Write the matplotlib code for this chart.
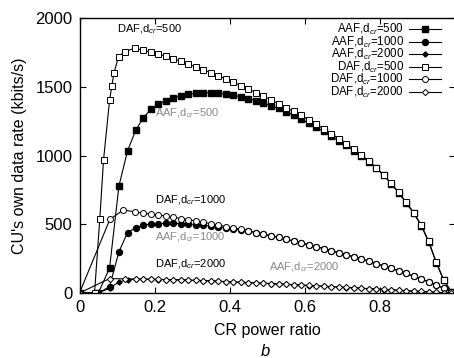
import matplotlib
matplotlib.use("Agg")
import matplotlib.pyplot as plt

plt.rcParams['font.family'] = ['Liberation Sans', 'DejaVu Sans']
plt.rcParams['mathtext.fontset'] = 'custom'
plt.rcParams['mathtext.rm'] = 'Liberation Sans'
plt.rcParams['mathtext.it'] = 'Liberation Sans:italic'

# common x grid for the tail of all curves
x_tail = [0.21, 0.23, 0.25, 0.27, 0.29, 0.31, 0.33, 0.35, 0.37, 0.39,
          0.41, 0.43, 0.45, 0.47, 0.49, 0.51, 0.53, 0.55, 0.57, 0.59,
          0.61, 0.63, 0.65, 0.67, 0.69, 0.71, 0.73, 0.75, 0.77, 0.79,
          0.81, 0.83, 0.85, 0.87, 0.89, 0.91, 0.93, 0.95, 0.97, 0.99]

# AAF, d_cr=500
x_aaf500 = [0, 0.05, 0.08, 0.105, 0.128, 0.15, 0.17, 0.19] + x_tail
y_aaf500 = [0, 0, 180, 778, 1035, 1185, 1275, 1335,
            1372, 1398, 1418, 1434, 1446, 1453, 1456, 1456, 1453, 1447,
            1438, 1427, 1414, 1399, 1382, 1363, 1342, 1319, 1294, 1266,
            1236, 1206, 1175, 1143, 1109, 1073, 1036, 997, 955, 910,
            855, 795, 728, 655, 580, 490, 370, 220, 92, 10]

# DAF, d_cr=500
x_daf500 = [0, 0.04, 0.054, 0.064, 0.08, 0.086, 0.092, 0.104, 0.12, 0.147,
            0.17, 0.19] + x_tail
y_daf500 = [0, 0, 536, 967, 1400, 1505, 1602, 1719, 1755, 1780, 1765, 1752,
            1739, 1721, 1703, 1684, 1664, 1644, 1623, 1601, 1579, 1556,
            1532, 1508, 1483, 1457, 1431, 1404, 1377, 1349, 1320, 1291,
            1260, 1228, 1194, 1159, 1123, 1085, 1046, 1005, 962, 912,
            858, 798, 732, 660, 585, 495, 375, 225, 95, 10]

# AAF, d_cr=1000
x_aaf1000 = [0, 0.05, 0.08, 0.105, 0.128, 0.15, 0.17, 0.19] + x_tail
y_aaf1000 = [0, 0, 46, 300, 439, 475, 493, 501,
             505, 506, 506, 505, 502, 498, 493, 487, 480, 473,
             466, 458, 449, 439, 428, 416, 404, 391, 378, 365,
             351, 337, 323, 308, 293, 278, 263, 247, 231, 214,
             197, 179, 161, 142, 122, 102, 80, 58, 33, 8]

# DAF, d_cr=1000
x_daf1000 = [0, 0.081, 0.117, 0.147, 0.17, 0.19] + x_tail
y_daf1000 = [0, 536, 604, 590, 581, 574,
             567, 559, 550, 541, 533, 524, 514, 504, 494, 483,
             473, 462, 451, 440, 428, 416, 404, 391, 378, 365,
             351, 337, 323, 308, 293, 278, 263, 247, 231, 214,
             197, 179, 161, 142, 122, 102, 80, 58, 33, 8]

# AAF, d_cr=2000
x_aaf2000 = [0, 0.05, 0.08, 0.105, 0.128, 0.15, 0.17, 0.19] + x_tail
y_aaf2000 = [0, 0, 35, 80, 96, 99, 99, 99,
             98, 97, 96, 95, 93, 91, 89, 87, 85, 82,
             80, 77, 75, 73, 70, 68, 65, 62, 60, 57,
             54, 51, 48, 46, 43, 40, 37, 34, 31, 28,
             25, 22, 19, 16, 13, 10, 7, 5, 2, 0]

# DAF, d_cr=2000
x_daf2000 = [0, 0.08, 0.12, 0.15, 0.17, 0.19] + x_tail
y_daf2000 = [0, 105, 103, 102, 101, 100,
             99, 98, 97, 96, 94, 92, 90, 88, 86, 83,
             81, 78, 76, 74, 71, 69, 66, 63, 61, 58,
             55, 52, 49, 47, 44, 41, 38, 35, 32, 29,
             26, 23, 20, 17, 14, 11, 8, 5, 3, 1]

fig = plt.figure(figsize=(4.54, 3.58), dpi=100)
ax = fig.add_axes([79.5 / 454, 1 - 293 / 358, (455 - 79.5) / 454, (293 - 18) / 358])

lw = 0.8
ms = 4.3
ax.plot(x_aaf500, y_aaf500, '-s', color='black', lw=lw, ms=ms,
        mfc='black', mec='black', label='AAF,d$_{cr}$=500')
ax.plot(x_aaf1000, y_aaf1000, '-o', color='black', lw=lw, ms=ms,
        mfc='black', mec='black', label='AAF,d$_{cr}$=1000')
ax.plot(x_aaf2000, y_aaf2000, '-D', color='black', lw=lw, ms=2.6,
        mfc='black', mec='black', label='AAF,d$_{cr}$=2000')
ax.plot(x_daf500, y_daf500, '-s', color='black', lw=lw, ms=ms,
        mfc='white', mec='black', mew=0.7, label='DAF,d$_{cr}$=500')
ax.plot(x_daf1000, y_daf1000, '-o', color='black', lw=lw, ms=ms,
        mfc='white', mec='black', mew=0.7, label='DAF,d$_{cr}$=1000')
ax.plot(x_daf2000, y_daf2000, '-D', color='black', lw=lw, ms=3.2,
        mfc='white', mec='black', mew=0.7, label='DAF,d$_{cr}$=2000')

ax.set_xlim(0, 1)
ax.set_ylim(0, 2000)
ax.set_xticks([0, 0.2, 0.4, 0.6, 0.8])
ax.set_xticklabels(['0', '0.2', '0.4', '0.6', '0.8'])
ax.set_yticks([0, 500, 1000, 1500, 2000])
ax.tick_params(direction='in', length=4, width=0.8, top=True, right=True,
               labelsize=12, pad=5)
for s in ax.spines.values():
    s.set_linewidth(1.0)

ax.set_xlabel("CR power ratio", fontsize=11.5, labelpad=6)
ax.set_ylabel("CU's own data rate (kbits/s)", fontsize=11.5, labelpad=6)

# curve annotations
grey = '#888888'
fs = 8
ax.text(0.1, 1915, 'DAF,d$_{cr}$=500', fontsize=fs, color='black', va='center')
ax.text(0.2, 1310, 'AAF,d$_{cr}$=500', fontsize=fs, color=grey, va='center')
ax.text(0.2, 675, 'DAF,d$_{cr}$=1000', fontsize=fs, color='black', va='center')
ax.text(0.2, 405, 'AAF,d$_{cr}$=1000', fontsize=fs, color=grey, va='center')
ax.text(0.2, 212, 'DAF,d$_{cr}$=2000', fontsize=fs, color='black', va='center')
ax.text(0.505, 190, 'AAF,d$_{cr}$=2000', fontsize=fs, color=grey, va='center')

ax.legend(loc='upper right', bbox_to_anchor=(449 / 454, 1 - 14 / 358),
          bbox_transform=fig.transFigure, frameon=False, markerfirst=False,
          fontsize=8.3, labelspacing=-0.22, handlelength=2.8, handletextpad=0.4,
          borderpad=0.2)

fig.text(265 / 454, 1 - 352 / 358, 'b', fontsize=12, style='italic',
         ha='center', va='center')

fig.savefig('out.png', dpi=100)
